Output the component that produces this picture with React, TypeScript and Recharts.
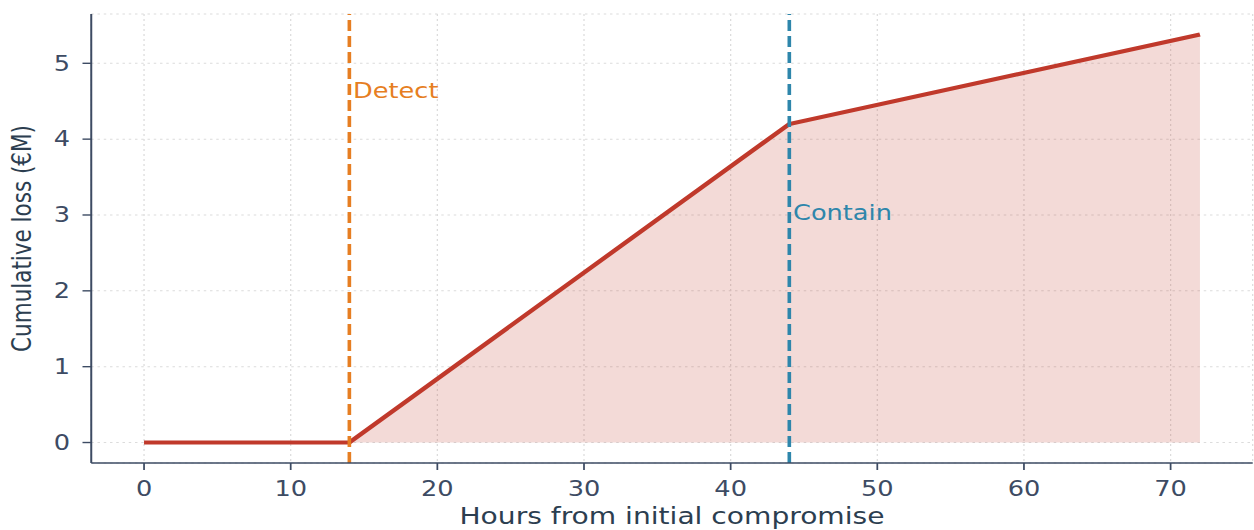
import React from 'react';
import { Area, CartesianGrid, ComposedChart, Label, Line, ReferenceDot, ReferenceLine, XAxis, YAxis } from 'recharts';

// hours since compromise and cumulative loss (€M)
const hours = [0, 14, 44, 72];
const loss = [0, 0, 4.2, 5.38];

const xTicks = [0, 10, 20, 30, 40, 50, 60, 70];
const yTicks = [0, 1, 2, 3, 4, 5];

const detectHour = 14;
const containHour = 44;
const detectLabelY = 4.64;
const containLabelY = 3.03;

// the source image is stretched horizontally, so draw narrower and scale
const STRETCH = 1.25;
const WIDTH = 1254 / STRETCH;
const HEIGHT = 530;

const axisColor = '#3d4b63';
const textColor = '#3d4b63';
const lossColor = '#c0392b';
const detectColor = '#e67e22';
const containColor = '#2e86ab';

const rows = hours.map((h, i) => ({
  hour: h,
  loss: loss[i],
  // shaded area only starts once the breach is detected
  fill: h >= detectHour ? loss[i] : null,
}));

const tickStyle = { fill: textColor, fontSize: 20.5, fontFamily: 'DejaVu Sans' };

const App = () => {
  return (
    <div
      style={{
        position: 'absolute',
        left: 0,
        top: 0,
        width: WIDTH,
        height: HEIGHT,
        transform: `scaleX(${STRETCH})`,
        transformOrigin: '0 0',
        background: '#fff',
      }}
    >
      <ComposedChart width={WIDTH} height={HEIGHT} data={rows} margin={{ top: 14, right: 1, bottom: 0, left: 0 }}>
        <CartesianGrid stroke="#dcdcdc" strokeDasharray="2 3" strokeWidth={1} />
        <XAxis
          type="number"
          dataKey="hour"
          domain={[-3.6, 75.6]}
          ticks={xTicks}
          allowDataOverflow
          height={67}
          tickSize={7}
          tickMargin={11}
          tick={tickStyle}
          axisLine={{ stroke: axisColor, strokeWidth: 1.6 }}
          tickLine={{ stroke: axisColor, strokeWidth: 1.4 }}
        >
          <Label
            value="Hours from initial compromise"
            position="insideBottom"
            offset={6}
            style={{ fill: '#2c3e50', fontSize: 22.5, fontFamily: 'DejaVu Sans' }}
          />
        </XAxis>
        <YAxis
          type="number"
          domain={[-0.27, 5.65]}
          ticks={yTicks}
          allowDataOverflow
          width={73}
          tickSize={7}
          tickMargin={10}
          tick={tickStyle}
          axisLine={{ stroke: axisColor, strokeWidth: 1.6 }}
          tickLine={{ stroke: axisColor, strokeWidth: 1.4 }}
        >
          <Label
            value="Cumulative loss (€M)"
            angle={-90}
            position="center"
            dx={-19}
            style={{ fill: '#2c3e50', fontSize: 21.5, fontFamily: 'DejaVu Sans', textAnchor: 'middle' }}
          />
        </YAxis>
        <Area
          dataKey="fill"
          type="linear"
          baseValue={0}
          fill={lossColor}
          fillOpacity={0.19}
          stroke="none"
          isAnimationActive={false}
        />
        <Line
          dataKey="loss"
          type="linear"
          stroke={lossColor}
          strokeWidth={4}
          dot={false}
          activeDot={false}
          isAnimationActive={false}
        />
        <ReferenceLine x={detectHour} stroke={detectColor} strokeWidth={2.9} strokeDasharray="11 5" />
        <ReferenceLine x={containHour} stroke={containColor} strokeWidth={2.9} strokeDasharray="11 5" />
        <ReferenceDot
          x={detectHour}
          y={detectLabelY}
          r={0}
          fill="none"
          stroke="none"
          label={{ value: 'Detect', position: 'right', offset: 3, fill: detectColor, fontSize: 20.5, fontFamily: 'DejaVu Sans' }}
        />
        <ReferenceDot
          x={containHour}
          y={containLabelY}
          r={0}
          fill="none"
          stroke="none"
          label={{ value: 'Contain', position: 'right', offset: 3, fill: containColor, fontSize: 20.5, fontFamily: 'DejaVu Sans' }}
        />
      </ComposedChart>
    </div>
  );
};

export default App;
